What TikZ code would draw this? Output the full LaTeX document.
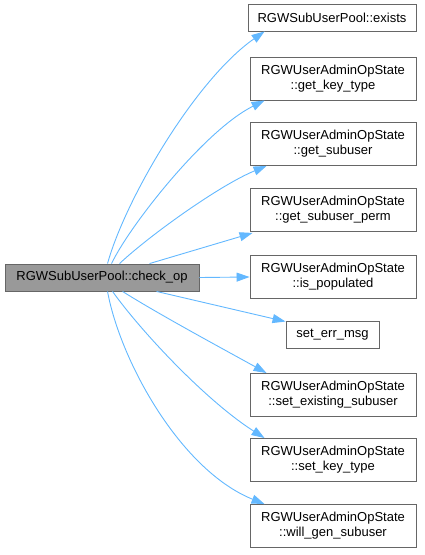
\documentclass[tikz,border=0pt]{standalone}
\usepackage{fontspec}
\setmainfont{Liberation Sans}
\usetikzlibrary{arrows.meta}
\definecolor{edgeblue}{HTML}{63B8FF}
\definecolor{boxline}{HTML}{666666}
\definecolor{rootfill}{HTML}{999999}
\begin{document}
\begin{tikzpicture}[x=1pt,y=-1pt,
  box/.style={draw=boxline,line width=0.9pt,fill=white,inner sep=0pt,align=center,
    font=\fontsize{13}{15}\selectfont,minimum width=166pt},
  onebox/.style={box,minimum height=27pt},
  twobox/.style={box,minimum height=43pt},
  rootbox/.style={box,fill=rootfill,minimum width=194pt,minimum height=27pt},
  edge/.style={draw=edgeblue,line width=0.9pt,-{Triangle[length=13pt,width=9pt]}}]
\useasboundingbox (0,0) rectangle (424,555);
\node[rootbox] (root) at (102,277.5) {RGWSubUserPool::check\_op};
\node[onebox,minimum width=168pt] (exists) at (332,17.5) {RGWSubUserPool::exists};
\node[twobox] (gkt) at (333,78.5) {RGWUserAdminOpState\\::get\_key\_type};
\node[twobox] (gsu) at (333,144) {RGWUserAdminOpState\\::get\_subuser};
\node[twobox] (gsp) at (333,210) {RGWUserAdminOpState\\::get\_subuser\_perm};
\node[twobox] (isp) at (333,277) {RGWUserAdminOpState\\::is\_populated};
\node[onebox,minimum width=93pt] (sem) at (332.5,334.5) {set\_err\_msg};
\node[twobox] (ses) at (333,395) {RGWUserAdminOpState\\::set\_existing\_subuser};
\node[twobox] (skt) at (333,460) {RGWUserAdminOpState\\::set\_key\_type};
\node[twobox] (wgs) at (333,526) {RGWUserAdminOpState\\::will\_gen\_subuser};
% edges
\draw[edge] ([xshift=103pt]root.north west) .. controls (125,200) and (195,80) .. ([xshift=17pt]exists.south west);
\draw[edge] ([xshift=107pt]root.north west) .. controls (130,225) and (205,130) .. ([xshift=15pt]gkt.south west);
\draw[edge] ([xshift=115pt]root.north west) .. controls (150,235) and (220,185) .. ([xshift=17pt]gsu.south west);
\draw[edge] ([xshift=145pt]root.north west) -- ([xshift=3pt,yshift=-1pt]gsp.south west);
\draw[edge] (root.east) -- (isp.west);
\draw[edge] ([xshift=152pt]root.south west) -- ([yshift=-1pt]sem.north west);
\draw[edge] ([xshift=118pt]root.south west) .. controls (160,315) and (225,350) .. ([xshift=17pt]ses.north west);
\draw[edge] ([xshift=108pt]root.south west) .. controls (140,330) and (205,400) .. ([xshift=15pt]skt.north west);
\draw[edge] ([xshift=103pt]root.south west) .. controls (120,360) and (180,470) .. ([xshift=15pt]wgs.north west);
\end{tikzpicture}
\end{document}
